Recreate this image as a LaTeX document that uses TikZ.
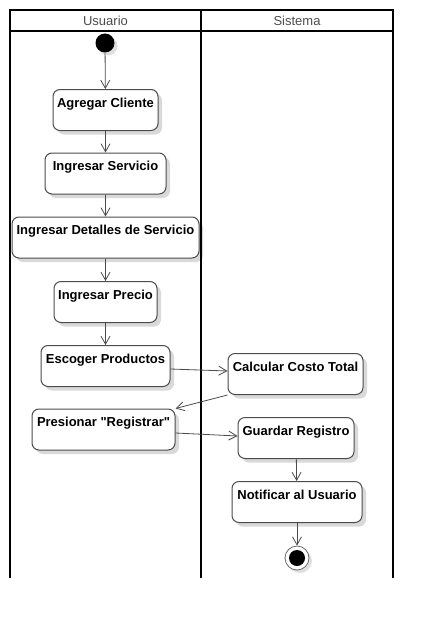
\documentclass[tikz,border=0pt]{standalone}
\usepackage{fontspec}
\setmainfont{Liberation Sans}[Ligatures=TeXOff]
\usetikzlibrary{arrows.meta,shadows}
\tikzset{
  accion/.style={draw=black!70,line width=1pt,rounded corners=7pt,fill=white,
    font=\bfseries\fontsize{13}{15}\selectfont,inner xsep=2pt,inner ysep=7pt,
    text height=10.5pt,text depth=16.5pt,
    drop shadow={shadow xshift=4pt,shadow yshift=-4pt,opacity=.15,fill=black}},
  flujo/.style={draw=black!70,line width=.8pt,-{Straight Barb[length=8pt,width=9pt]}},
  carril/.style={line width=1.6pt},
  titulo/.style={text=black!70,font=\fontsize{13}{15}\selectfont}
}
\begin{document}
\begin{tikzpicture}[x=1pt,y=-1pt]
\useasboundingbox (0,0) rectangle (433,618);
% carriles
\draw[carril] (10,578)--(10,10)--(393,10)--(393,578) (201,10)--(201,578) (10,31)--(393,31);
\node[titulo] (usuario) at (105.5,20.5) {Usuario};
\node[titulo] (sistema) at (297,20.5) {Sistema};
% nodos
\node[circle,fill=black,minimum size=19,inner sep=0pt,
  drop shadow={shadow xshift=3pt,shadow yshift=-3pt,opacity=.12,fill=black}] (inicio) at (105,43) {};
\node[accion,minimum width=105] (agregar) at (105.5,110) {Agregar Cliente};
\node[accion,minimum width=121] (servicio) at (105.5,173.5) {Ingresar Servicio};
\node[accion,minimum width=187] (detalles) at (105.5,237.5) {Ingresar Detalles de Servicio};
\node[accion,minimum width=103] (precio) at (105.5,302) {Ingresar Precio};
\node[accion,minimum width=129] (productos) at (105.5,366) {Escoger Productos};
\node[accion,minimum width=143] (registrar) at (103.5,429.5) {Presionar "Registrar"};
\node[accion,minimum width=135] (costo) at (295.5,374) {Calcular Costo Total};
\node[accion,minimum width=116] (guardar) at (296,438) {Guardar Registro};
\node[accion,minimum width=130] (notificar) at (297,502) {Notificar al Usuario};
\node[circle,draw=black!60,line width=.8pt,fill=white,minimum size=24,inner sep=0pt,
  drop shadow={shadow xshift=3pt,shadow yshift=-3pt,opacity=.12,fill=black}] (fin) at (297,558) {};
\fill (fin) circle (8);
% flujos
\draw[flujo] (inicio)--(agregar);
\draw[flujo] (agregar)--(servicio);
\draw[flujo] (servicio)--(detalles);
\draw[flujo] (detalles)--(precio);
\draw[flujo] (precio)--(productos);
\draw[flujo] ([yshift=-3pt]productos.east)--([yshift=3pt]costo.west);
\draw[flujo] (costo.south west)--(registrar.north east);
\draw[flujo] ([yshift=-3.5pt]registrar.east)--([yshift=2pt]guardar.west);
\draw[flujo] (guardar)--(notificar);
\draw[flujo] (notificar)--(fin);
\end{tikzpicture}
\end{document}
